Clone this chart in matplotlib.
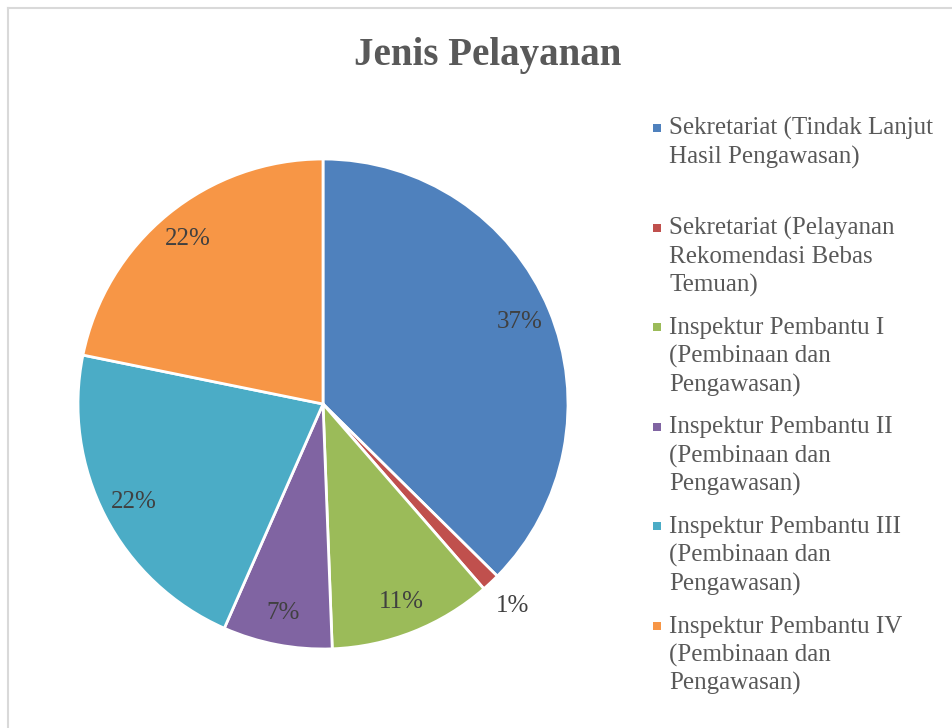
import matplotlib
matplotlib.use("Agg")
import matplotlib.pyplot as plt
import numpy as np
from matplotlib.patches import Rectangle
from matplotlib.lines import Line2D

# ---- data ----
categories = [
    "Sekretariat (Tindak Lanjut Hasil Pengawasan)",
    "Sekretariat (Pelayanan Rekomendasi Bebas Temuan)",
    "Inspektur Pembantu I (Pembinaan dan Pengawasan)",
    "Inspektur Pembantu II (Pembinaan dan Pengawasan)",
    "Inspektur Pembantu III (Pembinaan dan Pengawasan)",
    "Inspektur Pembantu IV (Pembinaan dan Pengawasan)",
]
legend_lines = [
    ["Sekretariat (Tindak Lanjut", "Hasil Pengawasan)"],
    ["Sekretariat (Pelayanan", "Rekomendasi Bebas", "Temuan)"],
    ["Inspektur Pembantu I", "(Pembinaan dan", "Pengawasan)"],
    ["Inspektur Pembantu II", "(Pembinaan dan", "Pengawasan)"],
    ["Inspektur Pembantu III", "(Pembinaan dan", "Pengawasan)"],
    ["Inspektur Pembantu IV", "(Pembinaan dan", "Pengawasan)"],
]
values = [37.4, 1.2, 10.8, 7.2, 21.6, 21.8]
colors = ["#4F81BD", "#C0504D", "#9BBB59", "#8064A2", "#4BACC6", "#F79646"]
title = "Jenis Pelayanan"

FONT = "Liberation Serif"
W, H = 952, 728
fig = plt.figure(figsize=(W / 100, H / 100), dpi=100)
fig.patch.set_facecolor("white")

# border (top and left visible)
fig.add_artist(Line2D([8 / W, 8 / W], [0, 1 - 8 / H], transform=fig.transFigure,
                      color="#D9D9D9", lw=1.5))
fig.add_artist(Line2D([8 / W, 1], [1 - 8 / H, 1 - 8 / H], transform=fig.transFigure,
                      color="#D9D9D9", lw=1.5))

# pie axes
cx, cy, r = 323, 404, 245
ax = fig.add_axes([(cx - r) / W, (H - cy - r) / H, 2 * r / W, 2 * r / H])
wedges, texts, autotexts = ax.pie(
    values, colors=colors, startangle=90, counterclock=False,
    autopct=lambda p: f"{p:.0f}%", pctdistance=0.87,
    wedgeprops=dict(edgecolor="white", linewidth=2.0),
    textprops=dict(fontfamily=FONT, fontsize=18, color="#404040"),
)
# move the tiny slice label outside (best fit)
cum = np.cumsum(values) - np.array(values) / 2
for i, t in enumerate(autotexts):
    if values[i] < 3:
        ang = np.deg2rad(90 - 360 * cum[i] / sum(values))
        t.set_position((1.13 * np.cos(ang), 1.13 * np.sin(ang)))
ax.set_xlim(-1, 1)
ax.set_ylim(-1, 1)
ax.set_aspect("equal")
ax.axis("off")

# title
fig.text(488 / W, 1 - 65 / H, title, ha="center", va="baseline",
         fontfamily=FONT, fontsize=28, fontweight="bold", color="#595959")

# legend (manual, Excel-like)
for i, (lines, col) in enumerate(zip(legend_lines, colors)):
    base = 135 + 99.5 * i
    fig.add_artist(Rectangle(((657 - 4) / W, 1 - (base - 7 + 4) / H), 8 / W, 8 / H,
                             transform=fig.transFigure, facecolor=col, edgecolor="none"))
    for k, ln in enumerate(lines):
        fig.text(669 / W, 1 - (base + 28.7 * k) / H, ln, ha="left", va="baseline",
                 fontfamily=FONT, fontsize=18, color="#595959")

fig.savefig("out.png", dpi=100, facecolor="white")
